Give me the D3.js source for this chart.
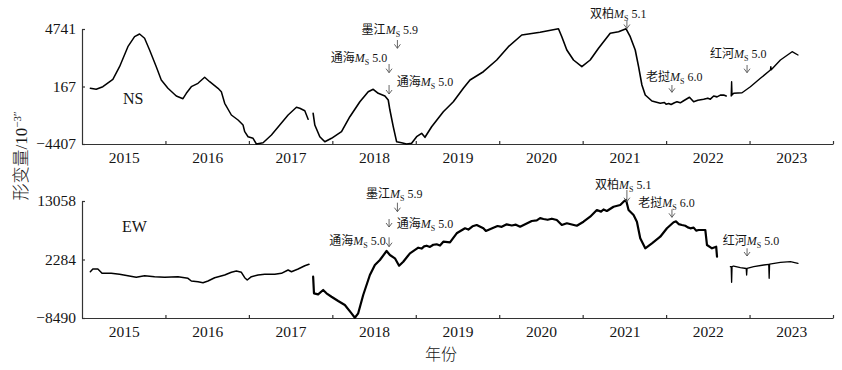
<!DOCTYPE html>
<html>
<head>
<meta charset="utf-8">
<script src="https://cdn.jsdelivr.net/npm/d3@7"></script>
<style>
  body { margin: 0; background: #fff; }
  svg text { font-family: "Liberation Serif", "Times New Roman", serif; fill: #151515; }
  .cjk { font-family: "Noto Sans CJK SC", sans-serif; }
  .tick text { font-size: 15.5px; }
  .domain, .tick line { stroke: #333; stroke-width: 1.2; }
  .curve { fill: none; stroke: #000; stroke-linejoin: round; stroke-linecap: round; }
  .arrow { fill: none; stroke: #555; stroke-width: 0.9; }
</style>
</head>
<body>
<div id="chart"></div>
<script>
// x axis: year labels sit mid-interval, ticks at the half years
const yearLabels = [2015, 2016, 2017, 2018, 2019, 2020, 2021, 2022, 2023];
const yearTicks = [2015.5, 2016.5, 2017.5, 2018.5, 2019.5, 2020.5, 2021.5, 2022.5, 2023.5];

const nsTicks = [-4407, 167, 4741];
const ewTicks = [-8490, 2284, 13058];

// earthquakes (name, magnitude, decimal year)
const eventNames = ['墨江', '通海', '双柏', '老挝', '红河'];
const eventMags = [5.9, 5.0, 5.1, 6.0, 5.0];
const eventTimes = [2018.28, 2018.18, 2021.03, 2021.57, 2022.47];

// NS component, [decimal year, value 10^-3"], three recording segments
const nsSeg1 = [
  [2014.60, 24], [2014.67, -56], [2014.75, 151], [2014.87, 740], [2014.95, 1742], [2015.05, 3333],
  [2015.13, 4129], [2015.19, 4343], [2015.25, 4001], [2015.31, 3070], [2015.39, 1742], [2015.45, 684],
  [2015.53, 24], [2015.63, -589], [2015.71, -804], [2015.75, -374], [2015.81, 151], [2015.89, 421],
  [2015.97, 899], [2016.03, 549], [2016.13, 24], [2016.17, -247], [2016.21, -1170], [2016.29, -2100],
  [2016.37, -2498], [2016.43, -2896], [2016.45, -3429], [2016.49, -3827], [2016.55, -3954], [2016.59, -4407],
  [2016.67, -4304], [2016.77, -3691], [2016.87, -2896], [2016.97, -2100], [2017.07, -1488], [2017.11, -1567],
  [2017.17, -1758], [2017.21, -2442]
];
const nsSeg2 = [
  [2017.27, -1965], [2017.29, -2896], [2017.35, -3827], [2017.41, -4224], [2017.49, -3954], [2017.61, -3429],
  [2017.71, -2236], [2017.83, -1042], [2017.93, -247], [2017.99, -56], [2018.05, -374], [2018.13, -589],
  [2018.17, -907], [2018.19, -1703], [2018.23, -3031], [2018.27, -4224], [2018.33, -4304], [2018.39, -4407],
  [2018.45, -4352], [2018.51, -3827], [2018.57, -3556], [2018.61, -3874], [2018.69, -3031], [2018.83, -1838],
  [2018.95, -1042], [2019.07, 24], [2019.15, 684], [2019.31, 1344], [2019.47, 2275], [2019.61, 3333],
  [2019.77, 4264], [2019.99, 4478], [2020.21, 4760], [2020.25, 4129], [2020.31, 3070], [2020.39, 2275],
  [2020.49, 1742], [2020.59, 2275], [2020.69, 3206], [2020.83, 4399], [2020.93, 4526], [2021.02, 4760],
  [2021.07, 4129], [2021.13, 3070], [2021.17, 1742], [2021.21, 286], [2021.25, -509], [2021.33, -987],
  [2021.43, -1170], [2021.48, -1110], [2021.5, -1250], [2021.53, -1180], [2021.56, -1270], [2021.6, -1120],
  [2021.63, -1042], [2021.67, -1130], [2021.71, -963], [2021.78, -692], [2021.83, -1042], [2021.88, -930],
  [2021.95, -851], [2022.0, -760], [2022.03, -840], [2022.07, -589], [2022.11, -660], [2022.15, -520],
  [2022.19, -509], [2022.22, -589]
];
const nsSeg3 = [
  [2022.28, -589], [2022.285, 549], [2022.29, -509], [2022.31, -374], [2022.41, -326], [2022.51, 151],
  [2022.63, 819], [2022.75, 1479], [2022.755, 1750], [2022.76, 1500], [2022.87, 2275], [2023.01, 2935],
  [2023.08, 2673]
];

// EW component
const ewSeg1 = [
  [2014.60, 35], [2014.63, 532], [2014.69, 532], [2014.74, -260], [2014.85, -260], [2014.95, -444],
  [2015.05, -702], [2015.15, -996], [2015.25, -702], [2015.37, -886], [2015.49, -996], [2015.65, -886],
  [2015.77, -1181], [2015.81, -1678], [2015.89, -1807], [2015.95, -1991], [2016.01, -1678], [2016.09, -1070],
  [2016.21, -573], [2016.29, -75], [2016.35, 164], [2016.41, -75], [2016.45, -1070], [2016.48, -1494],
  [2016.53, -886], [2016.61, -573], [2016.69, -444], [2016.81, -444], [2016.89, -260], [2016.97, 348],
  [2017.01, 35], [2017.09, 532], [2017.17, 1140], [2017.22, 1398]
];
const ewSeg2 = [
  [2017.27, -886], [2017.28, -3944], [2017.33, -4128], [2017.39, -3336], [2017.43, -3944], [2017.49, -4570],
  [2017.57, -5362], [2017.65, -6099], [2017.73, -7628], [2017.77, -8438], [2017.81, -7628], [2017.87, -4257],
  [2017.95, -573], [2018.01, 1269], [2018.07, 2190], [2018.15, 3848], [2018.19, 3111], [2018.25, 2503],
  [2018.30, 1140], [2018.35, 1877], [2018.43, 3424], [2018.53, 4456], [2018.57, 4300], [2018.6, 4700],
  [2018.63, 4824], [2018.67, 4600], [2018.71, 5000], [2018.75, 5082], [2018.79, 4850], [2018.83, 5561],
  [2018.91, 5451], [2018.99, 7108], [2019.09, 8029], [2019.13, 7800], [2019.18, 8400], [2019.23, 8637],
  [2019.31, 8029], [2019.34, 7532], [2019.43, 8140], [2019.48, 8450], [2019.53, 8300], [2019.59, 8766],
  [2019.65, 8550], [2019.7, 8700], [2019.75, 8324], [2019.89, 9374], [2019.95, 9500], [2019.99, 9900],
  [2020.03, 9742], [2020.08, 9600], [2020.13, 9800], [2020.19, 9558], [2020.25, 8637], [2020.31, 8950],
  [2020.43, 8508], [2020.51, 9245], [2020.59, 10166], [2020.67, 11400], [2020.72, 11100], [2020.75, 11500],
  [2020.79, 11216], [2020.87, 12008], [2020.95, 12321], [2020.99, 12929], [2021.02, 13242], [2021.05, 11400],
  [2021.11, 10479], [2021.15, 9245], [2021.19, 6187], [2021.25, 4345], [2021.33, 5266], [2021.43, 6482],
  [2021.51, 8029], [2021.59, 9135], [2021.62, 9300], [2021.65, 8800], [2021.69, 8637], [2021.73, 8500],
  [2021.76, 8200], [2021.79, 8029], [2021.83, 8150], [2021.86, 7600], [2021.89, 7716], [2021.97, 7716],
  [2021.99, 4953], [2022.05, 4345], [2022.10, 4640], [2022.11, 2798]
];
const ewSeg3 = [
  [2022.27, 956], [2022.28, 956], [2022.285, -1917], [2022.29, 956], [2022.31, 1085], [2022.39, 772],
  [2022.46, 624], [2022.465, -573], [2022.47, 650], [2022.55, 956], [2022.67, 1269], [2022.73, 1398],
  [2022.735, -1181], [2022.74, 1420], [2022.87, 1767], [2022.99, 1877], [2023.08, 1582]
];

// label placement: dx from arrow, ty text centre, a1/a2 arrow ends (relative to panel top)
const nsNotes = [
  {ev: 0, dx: -35.8, ty: 0.3, a1: 11, a2: 19.3},
  {ev: 1, dx: -58.4, ty: 28.3, a1: 35, a2: 43.7},
  {ev: 1, dx: 7.6, ty: 52.7, a1: 56, a2: 65},
  {ev: 2, dx: -36.9, ty: -15.7, a1: -8.5, a2: -0.5},
  {ev: 3, dx: -25.9, ty: 47.7, a1: 56, a2: 63.3},
  {ev: 4, dx: -37, ty: 24.3, a1: 36, a2: 43.7}
];
const ewNotes = [
  {ev: 0, dx: -31.5, ty: -7.7, a1: 1.7, a2: 10.7},
  {ev: 1, dx: 7.6, ty: 22.3, a1: 18, a2: 26},
  {ev: 1, dx: -59.8, ty: 40, a1: 36.3, a2: 45.7},
  {ev: 2, dx: -31.9, ty: -16, a1: -11, a2: 0.7},
  {ev: 3, dx: -33.6, ty: 1.7, a1: 8.3, a2: 16.3},
  {ev: 4, dx: -24.3, ty: 40, a1: 47.3, a2: 55}
];

class StrainPanel {

  constructor(_config, _segments) {
    this.config = {
      svg: _config.svg,
      top: _config.top,
      height: _config.height,
      left: _config.left || 82,
      right: _config.right || 833,
      yTicks: _config.yTicks,
      name: _config.name,
      namePos: _config.namePos,
      notes: _config.notes,
      widths: _config.widths
    };
    this.segments = _segments;
    this.initVis();
  }

  initVis() {
    let vis = this;
    const c = vis.config;

    vis.xScale = d3.scaleLinear()
        .domain([2014.5, 2023.5])
        .range([c.left, c.right]);
    vis.yScale = d3.scaleLinear()
        .domain(d3.extent(c.yTicks))
        .range([c.top + c.height, c.top]);

    vis.chart = c.svg.append('g');

    // ticks point inward, like the original figure
    vis.chart.append('g')
        .attr('transform', `translate(0,${c.top + c.height})`)
        .call(d3.axisBottom(vis.xScale).tickValues(yearTicks).tickSizeInner(-3).tickSizeOuter(0).tickFormat(''));

    const labels = vis.chart.append('g')
        .attr('transform', `translate(0,${c.top + c.height})`)
        .call(d3.axisBottom(vis.xScale).tickValues(yearLabels).tickSize(0).tickPadding(8).tickFormat(d3.format('d')));
    labels.select('.domain').remove();

    vis.chart.append('g')
        .attr('transform', `translate(${c.left},0)`)
        .call(d3.axisLeft(vis.yScale).tickValues(c.yTicks).tickSizeInner(-3).tickSizeOuter(0).tickPadding(6).tickFormat(d3.format('d')));

    vis.chart.append('text')
        .attr('x', c.namePos[0])
        .attr('y', c.namePos[1])
        .attr('font-size', 16)
        .text(c.name);

    vis.renderVis();
  }

  renderVis() {
    let vis = this;
    const c = vis.config;

    const line = d3.line()
        .x(d => vis.xScale(d[0]))
        .y(d => vis.yScale(d[1]));

    vis.chart.selectAll('.curve')
        .data(vis.segments)
      .join('path')
        .attr('class', 'curve')
        .attr('stroke-width', (d, i) => c.widths[i])
        .attr('d', line);

    const notes = vis.chart.selectAll('.note')
        .data(c.notes)
      .join('g')
        .attr('class', 'note');

    notes.each(function(d) {
      const g = d3.select(this);
      const ax = vis.xScale(eventTimes[d.ev]);
      const y1 = c.top + d.a1, y2 = c.top + d.a2;
      g.append('path')
          .attr('class', 'arrow')
          .attr('d', `M${ax},${y1}L${ax},${y2}M${ax - 3},${y2 - 4}L${ax},${y2}L${ax + 3},${y2 - 4}`);
      const t = g.append('text')
          .attr('x', ax + d.dx)
          .attr('y', c.top + d.ty + 4.3)
          .attr('font-size', 12)
          .attr('fill', '#222');
      t.append('tspan').attr('class', 'cjk').text(eventNames[d.ev]);
      t.append('tspan').attr('font-style', 'italic').text('M');
      t.append('tspan').attr('font-size', 8).attr('dy', 3).text('S');
      t.append('tspan').attr('dy', -3).text(' ' + eventMags[d.ev].toFixed(1));
    });
  }
}

const svg = d3.select('#chart').append('svg')
    .attr('width', 842)
    .attr('height', 370);

new StrainPanel({
  svg: svg, top: 29, height: 115, yTicks: nsTicks, name: 'NS', namePos: [123, 104],
  notes: nsNotes, widths: [1.5, 1.6, 1.4]
}, [nsSeg1, nsSeg2, nsSeg3]);

new StrainPanel({
  svg: svg, top: 201, height: 117, yTicks: ewTicks, name: 'EW', namePos: [122, 232],
  notes: ewNotes, widths: [1.5, 2.2, 1.3]
}, [ewSeg1, ewSeg2, ewSeg3]);

// axis titles
const yTitle = svg.append('text')
    .attr('transform', 'translate(27,156) rotate(-90)')
    .attr('text-anchor', 'middle')
    .attr('font-size', 17);
yTitle.append('tspan').attr('class', 'cjk').attr('font-weight', 300).text('形变量');
yTitle.append('tspan').text('/10');
yTitle.append('tspan').attr('font-size', 11).attr('dy', -6).text('−3″');

svg.append('text')
    .attr('class', 'cjk')
    .attr('x', 441)
    .attr('y', 360)
    .attr('text-anchor', 'middle')
    .attr('font-size', 16)
    .attr('font-weight', 300)
    .text('年份');
</script>
</body>
</html>
